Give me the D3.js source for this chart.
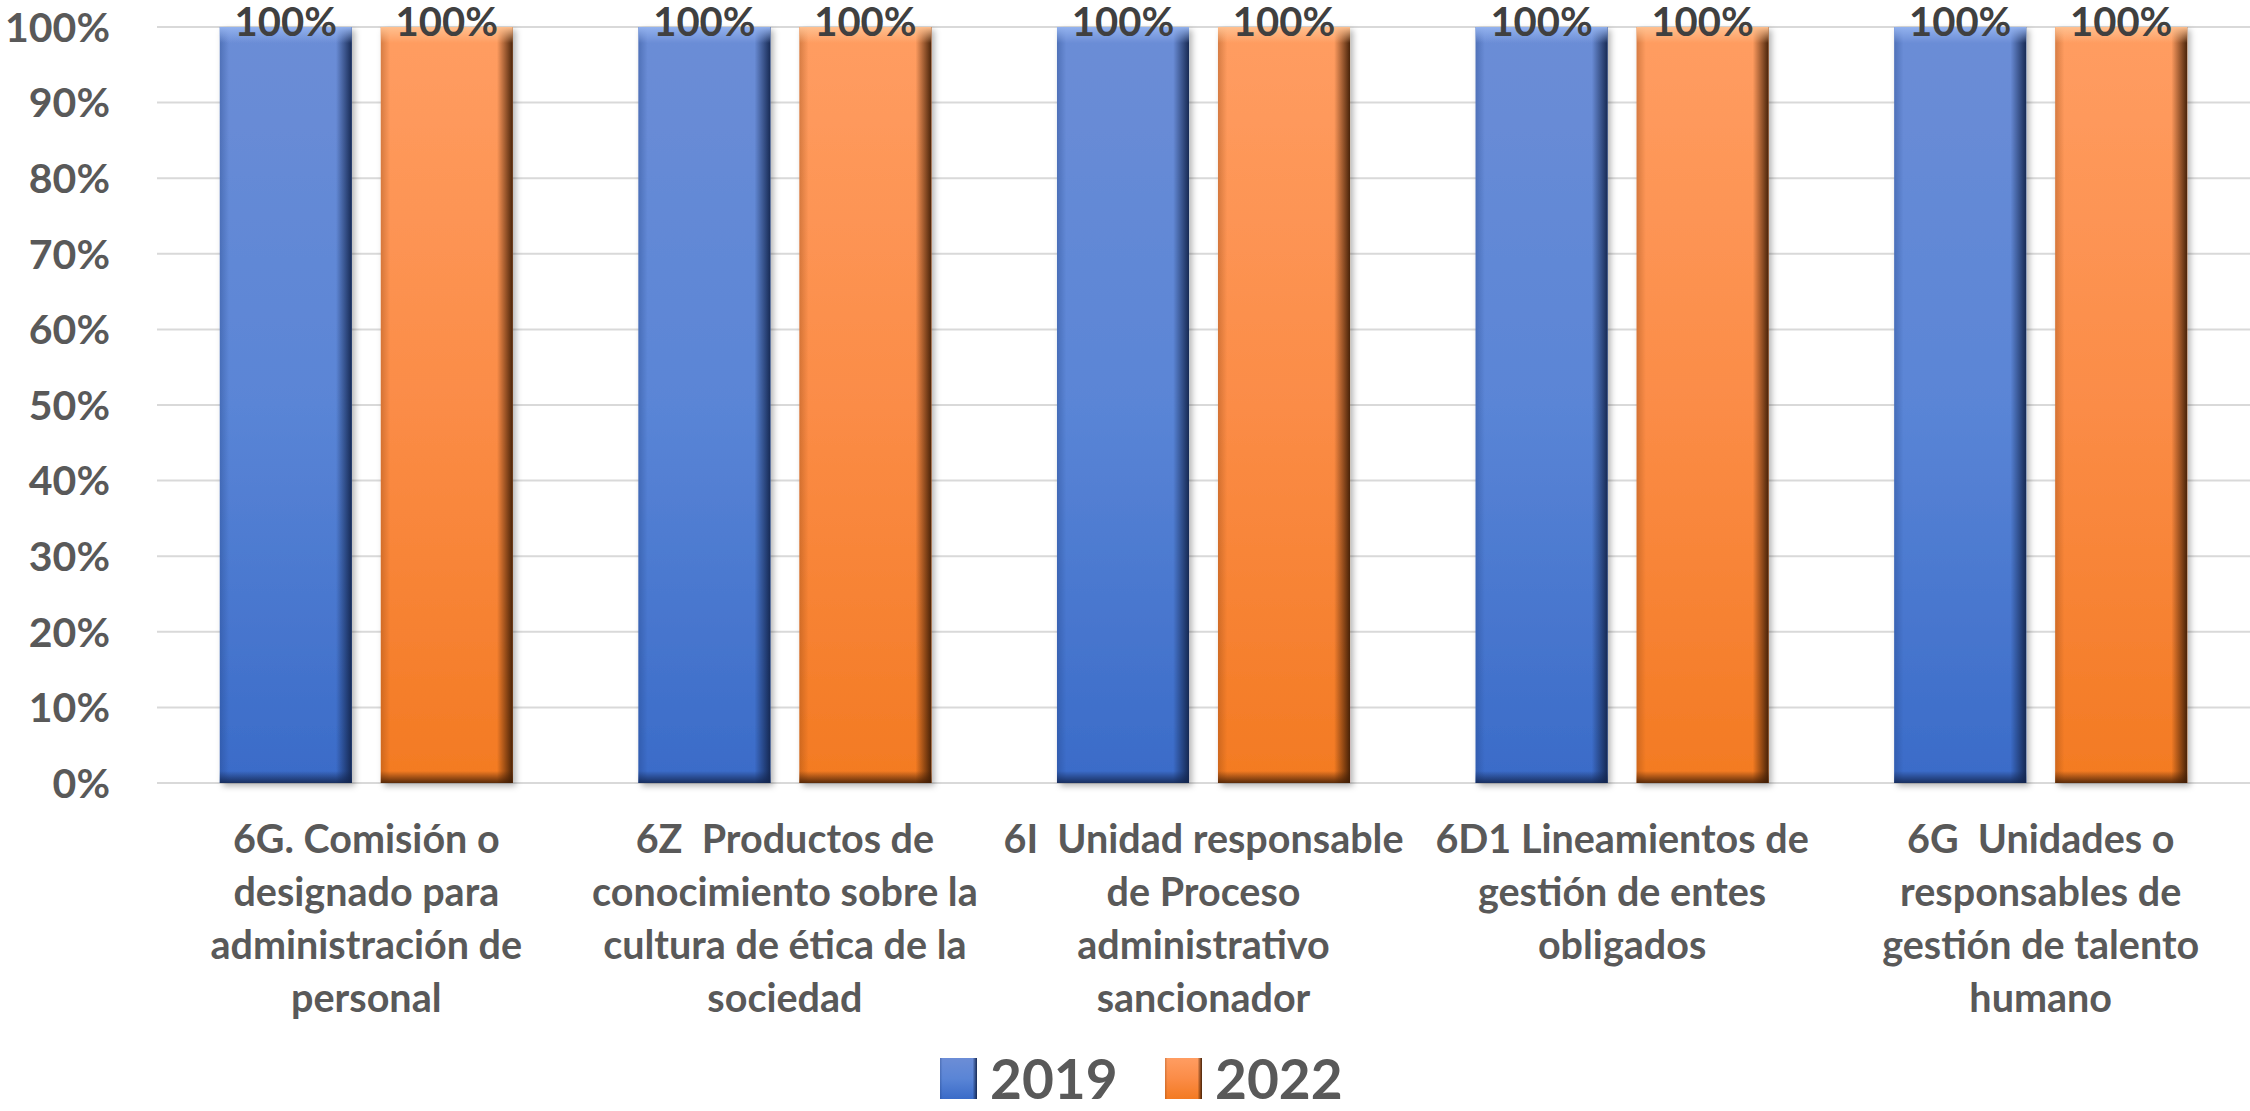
<!DOCTYPE html>
<html lang="es">
<head>
    <meta charset="UTF-8">
    <title>2019 vs 2022</title>
    <style>
        body {
            margin: 0;
            padding: 0;
            background: #fff;
            font-family: 'Lato', 'Open Sans', sans-serif;
        }
        .grid line {
            stroke: #d9d9d9;
            stroke-width: 2px;
        }
        .y-label {
            font-weight: bold;
            font-size: 41px;
            fill: #595959;
        }
        .value-label {
            font-weight: bold;
            font-size: 40px;
            fill: #404040;
        }
        .cat-label {
            font-weight: bold;
            font-size: 39.5px;
            fill: #595959;
            white-space: pre;
        }
        .legend-label {
            font-weight: bold;
            font-size: 55px;
            fill: #595959;
        }
    </style>
</head>
<body>
    <svg id="chart"></svg>

    <script src="https://d3js.org/d3.v7.min.js"></script>
    <script>
        // Data
        const categories = [
            ['6G. Comisión o', 'designado para', 'administración de', 'personal'],
            ['6Z  Productos de', 'conocimiento sobre la', 'cultura de ética de la', 'sociedad'],
            ['6I  Unidad responsable', 'de Proceso', 'administrativo', 'sancionador'],
            ['6D1 Lineamientos de', 'gestión de entes', 'obligados'],
            ['6G  Unidades o', 'responsables de', 'gestión de talento', 'humano']
        ];
        const seriesNames = ['2019', '2022'];
        const values2019 = [100, 100, 100, 100, 100];
        const values2022 = [100, 100, 100, 100, 100];
        const yTicks = [0, 10, 20, 30, 40, 50, 60, 70, 80, 90, 100];

        const seriesValues = [values2019, values2022];

        // Dimensions
        const width = 2250;
        const height = 1111;
        const margin = { top: 27, right: 0, bottom: 328, left: 157 };

        const svg = d3.select('#chart')
            .attr('width', width)
            .attr('height', height);

        // Gradients for the bevelled look
        const defs = svg.append('defs');
        const looks = {
            '2019': { top: '#6c8dd6', mid: '#5a85d6', bottom: '#3a6bc8', edge: '#13254d', hi: '#93b2ee', low: '#1f3f80' },
            '2022': { top: '#ff9d62', mid: '#fb8c47', bottom: '#f37a22', edge: '#3f1d05', hi: '#ffc08f', low: '#8a4210' }
        };
        Object.entries(looks).forEach(([key, c]) => {
            const v = defs.append('linearGradient').attr('id', 'fill' + key)
                .attr('x1', 0).attr('y1', 0).attr('x2', 0).attr('y2', 1);
            v.append('stop').attr('offset', '0%').attr('stop-color', c.top);
            v.append('stop').attr('offset', '50%').attr('stop-color', c.mid);
            v.append('stop').attr('offset', '100%').attr('stop-color', c.bottom);

            const h = defs.append('linearGradient').attr('id', 'edge' + key)
                .attr('x1', 0).attr('y1', 0).attr('x2', 1).attr('y2', 0);
            h.append('stop').attr('offset', '0%').attr('stop-color', c.low).attr('stop-opacity', 0.35);
            h.append('stop').attr('offset', '7%').attr('stop-color', c.low).attr('stop-opacity', 0);
            h.append('stop').attr('offset', '88%').attr('stop-color', c.edge).attr('stop-opacity', 0);
            h.append('stop').attr('offset', '100%').attr('stop-color', c.edge).attr('stop-opacity', 0.95);

            const t = defs.append('linearGradient').attr('id', 'top' + key)
                .attr('x1', 0).attr('y1', 0).attr('x2', 0).attr('y2', 1);
            t.append('stop').attr('offset', '0%').attr('stop-color', c.hi).attr('stop-opacity', 1);
            t.append('stop').attr('offset', '100%').attr('stop-color', c.hi).attr('stop-opacity', 0);

            const b = defs.append('linearGradient').attr('id', 'bot' + key)
                .attr('x1', 0).attr('y1', 0).attr('x2', 0).attr('y2', 1);
            b.append('stop').attr('offset', '0%').attr('stop-color', c.edge).attr('stop-opacity', 0);
            b.append('stop').attr('offset', '100%').attr('stop-color', c.edge).attr('stop-opacity', 0.85);
        });
        const shadow = defs.append('filter').attr('id', 'shadow')
            .attr('x', '-10%').attr('y', '-5%').attr('width', '125%').attr('height', '115%');
        shadow.append('feDropShadow')
            .attr('dx', 3).attr('dy', 3).attr('stdDeviation', 3)
            .attr('flood-color', '#000').attr('flood-opacity', 0.3);

        // Scales
        const x0 = d3.scaleBand()
            .domain(d3.range(categories.length))
            .range([margin.left, width - margin.right])
            .paddingInner(0.3)
            .paddingOuter(0.15);

        const x1 = d3.scaleBand()
            .domain(seriesNames)
            .range([0, x0.bandwidth()])
            .paddingInner(0.18);

        const y = d3.scaleLinear()
            .domain([0, 100])
            .range([height - margin.bottom, margin.top]);

        // Gridlines
        svg.append('g')
            .attr('class', 'grid')
            .selectAll('line')
            .data(yTicks)
            .enter()
            .append('line')
            .attr('x1', margin.left)
            .attr('x2', width - margin.right)
            .attr('y1', d => y(d))
            .attr('y2', d => y(d));

        // Y axis labels
        svg.append('g')
            .selectAll('text')
            .data(yTicks)
            .enter()
            .append('text')
            .attr('class', 'y-label')
            .attr('x', 110)
            .attr('y', d => y(d))
            .attr('dy', '0.36em')
            .attr('text-anchor', 'end')
            .text(d => d + '%');

        // Bars
        const groups = svg.append('g')
            .selectAll('g')
            .data(categories.map((c, i) => i))
            .enter()
            .append('g')
            .attr('transform', i => `translate(${x0(i)},0)`);

        const bars = groups.selectAll('g.bar')
            .data(i => seriesNames.map((s, k) => ({ series: s, value: seriesValues[k][i] })))
            .enter()
            .append('g')
            .attr('class', 'bar');

        bars.append('rect')
            .attr('x', d => x1(d.series))
            .attr('y', d => y(d.value))
            .attr('width', x1.bandwidth())
            .attr('height', d => y(0) - y(d.value))
            .attr('fill', d => `url(#fill${d.series})`)
            .attr('filter', 'url(#shadow)');

        bars.append('rect')
            .attr('x', d => x1(d.series))
            .attr('y', d => y(d.value))
            .attr('width', x1.bandwidth())
            .attr('height', d => y(0) - y(d.value))
            .attr('fill', d => `url(#edge${d.series})`);

        bars.append('rect')
            .attr('x', d => x1(d.series))
            .attr('y', d => y(d.value))
            .attr('width', x1.bandwidth())
            .attr('height', 16)
            .attr('fill', d => `url(#top${d.series})`);

        bars.append('rect')
            .attr('x', d => x1(d.series))
            .attr('y', d => y(0) - 12)
            .attr('width', x1.bandwidth())
            .attr('height', 12)
            .attr('fill', d => `url(#bot${d.series})`);

        // Value labels
        bars.append('text')
            .attr('class', 'value-label')
            .attr('x', d => x1(d.series) + x1.bandwidth() / 2)
            .attr('y', d => y(d.value) + 9)
            .attr('text-anchor', 'middle')
            .text(d => d.value + '%');

        // Category labels
        svg.append('g')
            .selectAll('text')
            .data(categories)
            .enter()
            .append('text')
            .attr('class', 'cat-label')
            .attr('text-anchor', 'middle')
            .attr('x', (d, i) => x0(i) + x0.bandwidth() / 2)
            .attr('y', y(0) + 70)
            .selectAll('tspan')
            .data(d => d)
            .enter()
            .append('tspan')
            .attr('x', function () { return this.parentNode.getAttribute('x'); })
            .attr('dy', (d, i) => i === 0 ? 0 : 53)
            .text(d => d);

        // Legend
        const legendX = [940, 1165];
        const legend = svg.append('g')
            .selectAll('g')
            .data(seriesNames)
            .enter()
            .append('g')
            .attr('transform', (d, i) => `translate(${legendX[i]},1058)`);

        legend.append('rect')
            .attr('width', 37)
            .attr('height', 41)
            .attr('fill', d => `url(#fill${d})`);
        legend.append('rect')
            .attr('width', 37)
            .attr('height', 41)
            .attr('fill', d => `url(#edge${d})`);
        legend.append('text')
            .attr('class', 'legend-label')
            .attr('x', 50)
            .attr('y', 41)
            .text(d => d);
    </script>
</body>
</html>
